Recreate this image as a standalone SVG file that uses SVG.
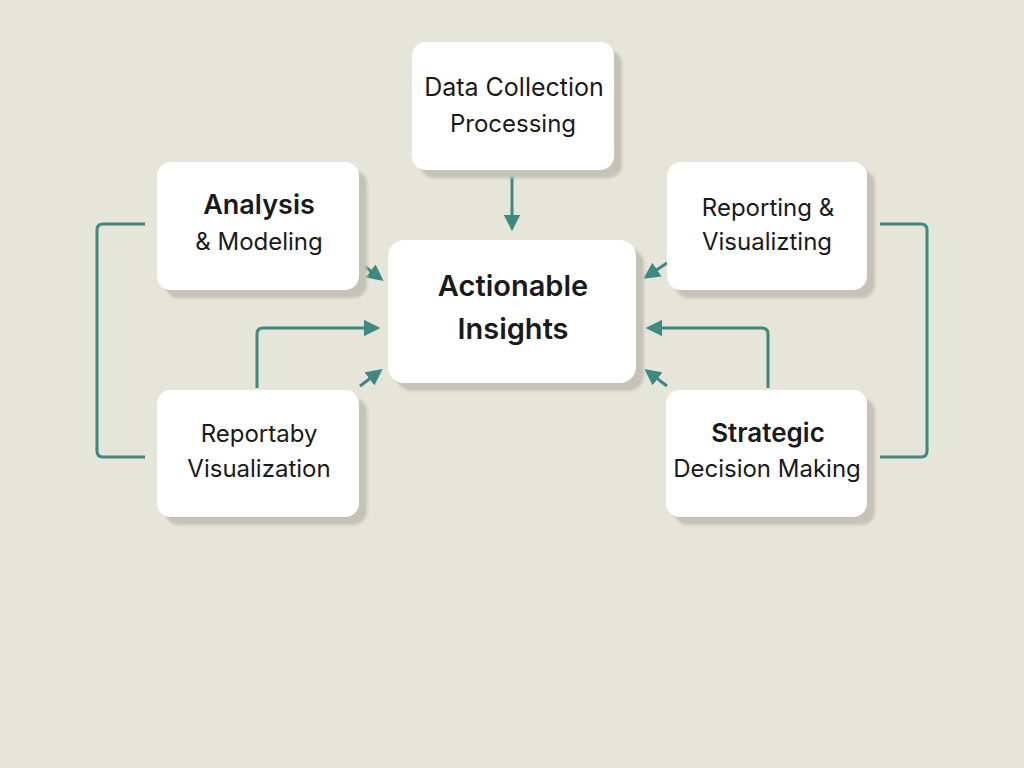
<svg xmlns="http://www.w3.org/2000/svg" width="1024" height="768" viewBox="0 0 1024 768">
<defs>
<marker id="ah" viewBox="0 0 10 10" refX="8" refY="5" markerWidth="5.5" markerHeight="5.5" orient="auto" markerUnits="strokeWidth">
<path d="M0,0 L10,5 L0,10 Z" fill="#3d8a80"/>
</marker>
<filter id="sh" x="-10%" y="-10%" width="130%" height="130%">
<feGaussianBlur stdDeviation="1.5"/>
</filter>
</defs>
<style>
.box{fill:#ffffff}
.shadow{fill:#c5c3b8}
.t{font-family:Inter,Roboto,"Liberation Sans",sans-serif;fill:#1a1a1a;text-anchor:middle}
.b{font-weight:600}
.c{fill:none;stroke:#3d8a80;stroke-width:3;stroke-linejoin:round}
</style>
<rect width="1024" height="768" fill="#e6e5da"/>
<g id="connectors">
<path class="c" d="M512,176 V228" marker-end="url(#ah)"/>
<path class="c" d="M145,224 H103 Q97,224 97,230 V451 Q97,457 103,457 H145"/>
<path class="c" d="M880,224 H921 Q927,224 927,230 V451 Q927,457 921,457 H880"/>
<path class="c" d="M359,262 L381,279" marker-end="url(#ah)"/>
<path class="c" d="M257,388 V334 Q257,328 263,328 H377" marker-end="url(#ah)"/>
<path class="c" d="M360,386 L380,371" marker-end="url(#ah)"/>
<path class="c" d="M667,263 L646,277" marker-end="url(#ah)"/>
<path class="c" d="M768,388 V334 Q768,328 762,328 H649" marker-end="url(#ah)"/>
<path class="c" d="M667,386 L647,371" marker-end="url(#ah)"/>
</g>
<g id="data-collection">
<rect class="shadow" x="420" y="50" width="202" height="128" rx="14" filter="url(#sh)"/>
<rect class="box" x="412" y="42" width="202" height="128" rx="14"/>
<text class="t" x="514" y="96" font-size="25">Data Collection</text>
<text class="t" x="513" y="132" font-size="24">Processing</text>
</g>
<g id="actionable-insights">
<rect class="shadow" x="396" y="248" width="248" height="143" rx="16" filter="url(#sh)"/>
<rect class="box" x="388" y="240" width="248" height="143" rx="16"/>
<text class="t b" x="513" y="296" font-size="29">Actionable</text>
<text class="t b" x="513" y="339" font-size="29">Insights</text>
</g>
<g id="analysis">
<rect class="shadow" x="165" y="170" width="202" height="128" rx="14" filter="url(#sh)"/>
<rect class="box" x="157" y="162" width="202" height="128" rx="14"/>
<text class="t b" x="259" y="214" font-size="27">Analysis</text>
<text class="t" x="259" y="250" font-size="24">&amp; Modeling</text>
</g>
<g id="reportaby">
<rect class="shadow" x="165" y="398" width="202" height="127" rx="14" filter="url(#sh)"/>
<rect class="box" x="157" y="390" width="202" height="127" rx="14"/>
<text class="t" x="259" y="442" font-size="24">Reportaby</text>
<text class="t" x="259" y="477" font-size="24">Visualization</text>
</g>
<g id="reporting">
<rect class="shadow" x="675" y="170" width="200" height="128" rx="14" filter="url(#sh)"/>
<rect class="box" x="667" y="162" width="200" height="128" rx="14"/>
<text class="t" x="768" y="216" font-size="24">Reporting &amp;</text>
<text class="t" x="767" y="250" font-size="24">Visualizting</text>
</g>
<g id="strategic">
<rect class="shadow" x="674" y="398" width="201" height="127" rx="14" filter="url(#sh)"/>
<rect class="box" x="666" y="390" width="201" height="127" rx="14"/>
<text class="t b" x="768" y="442" font-size="26">Strategic</text>
<text class="t" x="767" y="477" font-size="24">Decision Making</text>
</g>
</svg>
